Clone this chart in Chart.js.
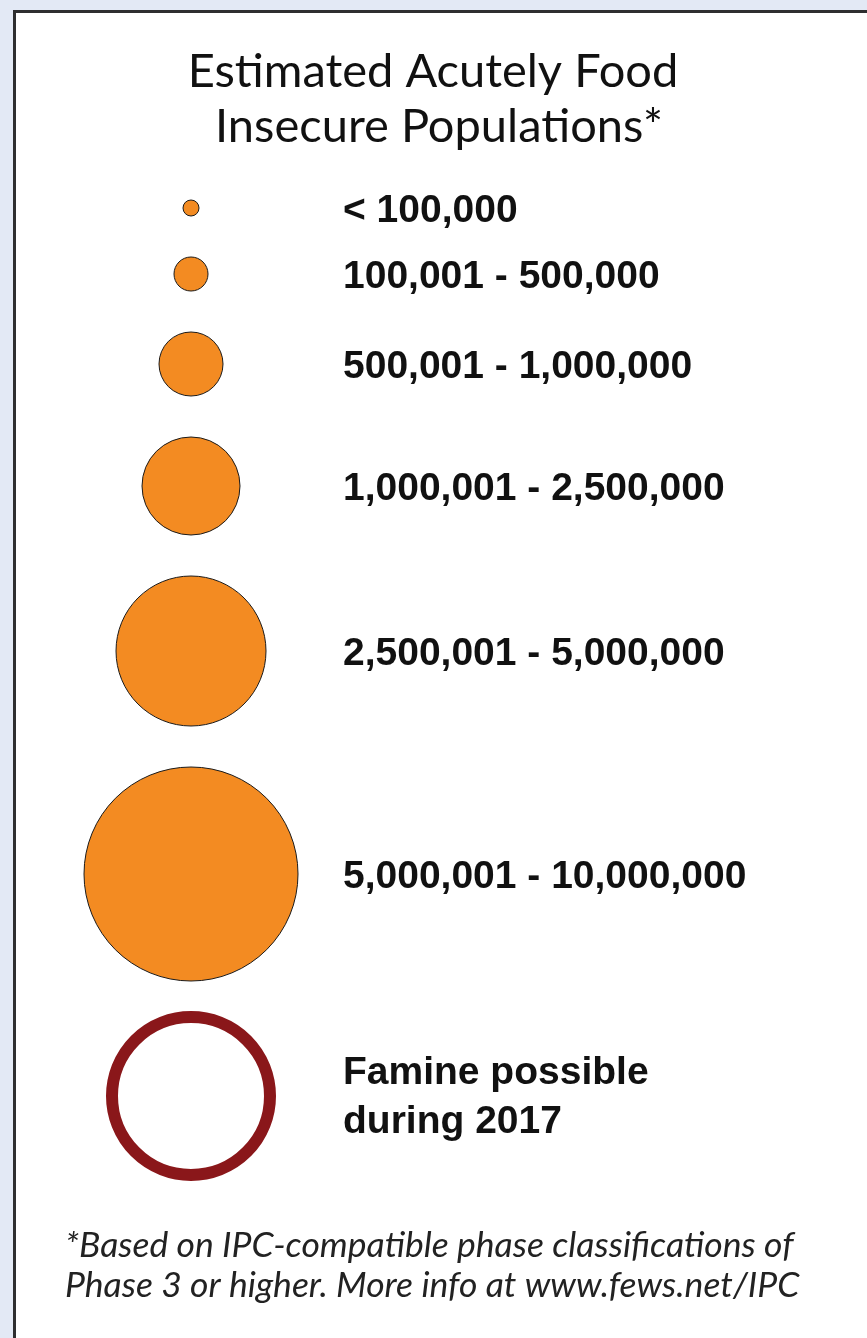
<!DOCTYPE html>
<html>
<head>
<meta charset="utf-8">
<script src="https://cdn.jsdelivr.net/npm/chart.js@4"></script>
<style>
  html, body { margin: 0; padding: 0; }
  body { width: 867px; height: 1338px; background: #e3e9f5; overflow: hidden; position: relative; }
  #panel {
    position: absolute; left: 13px; top: 10px; width: 851px; height: 1325px;
    background: #fff; border-top: 3px solid #2e2e30; border-left: 3px solid #2e2e30;
  }
  #legendChart { display: block; }
</style>
</head>
<body>
<div id="panel"><canvas id="legendChart" width="851" height="1325"></canvas></div>
<script>
// legend classes and circle radius (px) for each
const categories = ['< 100,000', '100,001 - 500,000', '500,001 - 1,000,000',
  '1,000,001 - 2,500,000', '2,500,001 - 5,000,000', '5,000,001 - 10,000,000'];
const radii = [8, 17, 32, 49, 75, 107];
const famineLabel = ['Famine possible', 'during 2017'];
const famineRadius = 79;
const titleLines = ['Estimated Acutely Food', ' Insecure Populations*'];
const footnoteLines = ['*Based on IPC-compatible phase classifications of',
  'Phase 3 or higher. More info at www.fews.net/IPC'];

// stack the circles top to bottom, fixed gap between them
const circleX = 175;
const firstY = 195;
const rowGap = 41;
const famineGap = 30;
const famineBorder = 12;

let y = firstY;
const bubbles = radii.map((r, i) => {
  if (i > 0) y += radii[i - 1] + rowGap + r;
  return { x: circleX, y: y, r: r, label: categories[i] };
});
const famineY = y + radii[radii.length - 1] + famineGap + famineRadius + famineBorder / 2;
const famine = [{ x: circleX, y: famineY, r: famineRadius, label: famineLabel }];

const textPlugin = {
  id: 'legendText',
  afterDraw(chart) {
    const ctx = chart.ctx;
    const ys = chart.scales.y;
    ctx.save();
    ctx.fillStyle = '#111';

    // title
    ctx.font = '47px Lato, "Open Sans", sans-serif';
    ctx.textAlign = 'center';
    ctx.textBaseline = 'alphabetic';
    ctx.fillText(titleLines[0], 417, 74);
    ctx.fillText(titleLines[1], 417, 129);

    // class labels
    ctx.textAlign = 'left';
    ctx.font = 'bold 39px "Liberation Sans", Arial, sans-serif';
    const labelX = 327;
    bubbles.forEach(b => {
      ctx.fillText(b.label, labelX, ys.getPixelForValue(b.y) + 14);
    });
    const fy = ys.getPixelForValue(famine[0].y);
    ctx.fillText(famineLabel[0], labelX, fy - 12);
    ctx.fillText(famineLabel[1], labelX, fy + 37);

    // footnote
    ctx.font = 'italic 35.5px Lato, "Open Sans", sans-serif';
    ctx.fillStyle = '#222';
    ctx.fillText(footnoteLines[0], 49, 1244);
    ctx.fillText(footnoteLines[1], 49, 1284);
    ctx.restore();
  }
};

const ctx = document.getElementById('legendChart').getContext('2d');
new Chart(ctx, {
  type: 'bubble',
  data: {
    datasets: [
      {
        label: 'Population',
        data: bubbles,
        backgroundColor: '#f38b22',
        borderColor: '#1a1a1a',
        borderWidth: 1,
        clip: false
      },
      {
        label: 'Famine',
        data: famine,
        backgroundColor: 'rgba(255,255,255,0)',
        borderColor: '#8a171a',
        borderWidth: famineBorder,
        clip: false
      }
    ]
  },
  options: {
    responsive: false,
    animation: false,
    events: [],
    layout: { padding: 0, autoPadding: false },
    plugins: {
      legend: { display: false },
      tooltip: { enabled: false },
      title: { display: false }
    },
    scales: {
      x: { type: 'linear', min: 0, max: 851, display: false },
      y: { type: 'linear', min: 0, max: 1325, reverse: true, display: false }
    }
  },
  plugins: [textPlugin]
});
</script>
</body>
</html>
